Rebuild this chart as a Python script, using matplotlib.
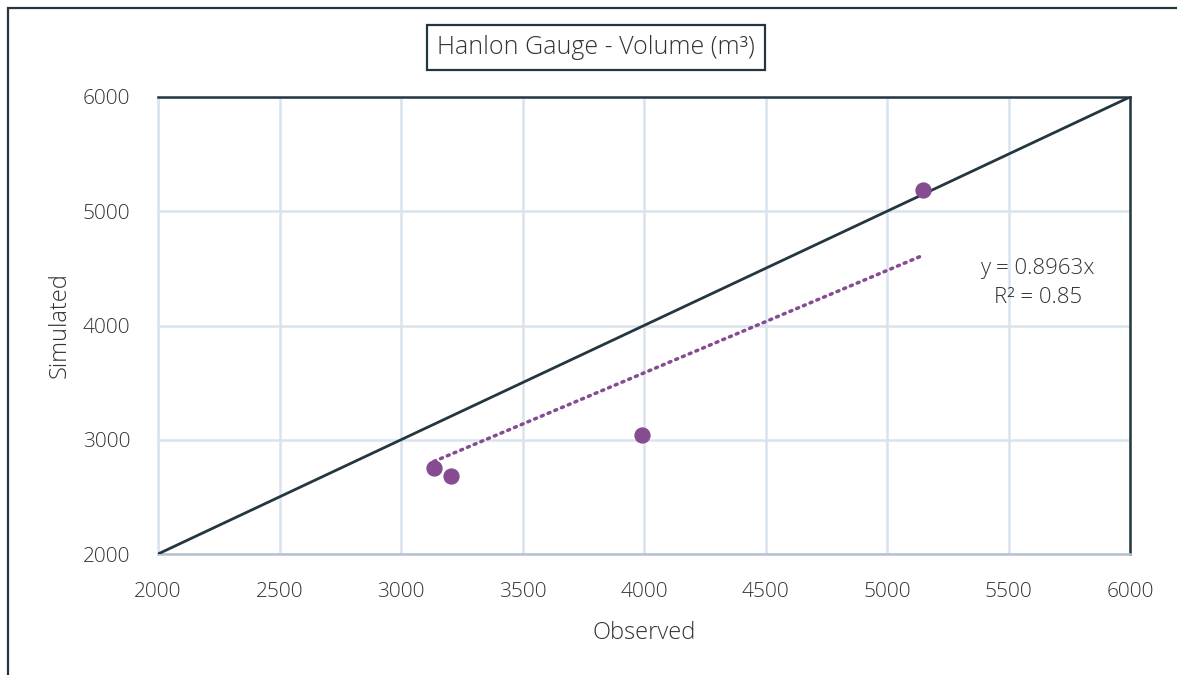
import numpy as np
import matplotlib.pyplot as plt
from matplotlib.patches import Rectangle

# observed vs simulated volumes (m3)
observed = [3135, 3205, 3990, 5150]
simulated = [2750, 2685, 3040, 5185]
slope = 0.8963
r2 = 0.85
ticks = [2000, 2500, 3000, 3500, 4000, 4500, 5000, 5500, 6000]
yticks = [2000, 3000, 4000, 5000, 6000]

plt.rcParams['font.family'] = ['Open Sans', 'DejaVu Sans']
plt.rcParams['font.weight'] = 'light'
plt.rcParams['axes.labelweight'] = 'light'
text_col = '#333333'
dark = '#243640'
purple = '#854c91'
grid_col = '#d9e3ec'

fig = plt.figure(figsize=(11.77, 6.75), dpi=100)
ax = fig.add_axes([158/1177, 121/675, 972/1177, 457/675])

# outer chart border (cropped on right and bottom)
fig.patches.append(Rectangle((8/1177, -0.1), 1.2, 1 - 8/675 + 0.1,
                             transform=fig.transFigure, fill=False,
                             edgecolor=dark, lw=1.6))

ax.plot([2000, 6000], [2000, 6000], color=dark, lw=2, zorder=3)
xfit = np.array([min(observed), max(observed)])
ax.plot(xfit, slope * xfit, color=purple, lw=2.5, ls=(0, (0.6, 1.5)),
        dash_capstyle='round', zorder=3)
ax.scatter(observed, simulated, s=115, color=purple, zorder=4)

ax.set_xlim(2000, 6000)
ax.set_ylim(2000, 6000)
ax.set_xticks(ticks)
ax.set_yticks(yticks)
ax.grid(True, color=grid_col, lw=1.8)
ax.set_axisbelow(True)
ax.tick_params(length=0, pad=20, labelsize=15, colors=text_col)
for s in ['top', 'right']:
    ax.spines[s].set_color(dark)
    ax.spines[s].set_linewidth(1.8)
for s in ['left', 'bottom']:
    ax.spines[s].set_color('#b4c3d0')
    ax.spines[s].set_linewidth(1.8)
ax.spines['left'].set_color(grid_col)

ax.set_xlabel('Observed', fontsize=17, color=text_col, labelpad=14)
ax.set_ylabel('Simulated', fontsize=17, color=text_col, labelpad=8)

ax.text(5620, 4370, 'y = %.4fx\nR² = %.2f' % (slope, r2), ha='center', va='center',
        fontsize=16, color=text_col, linespacing=1.5)

fig.text(596/1177, 1 - 47/675, 'Hanlon Gauge - Volume (m³)', ha='center', va='center',
         fontsize=18, color=text_col,
         bbox=dict(boxstyle='square,pad=0.4', fc='white', ec=dark, lw=1.6))

fig.savefig('out.png', dpi=100)
